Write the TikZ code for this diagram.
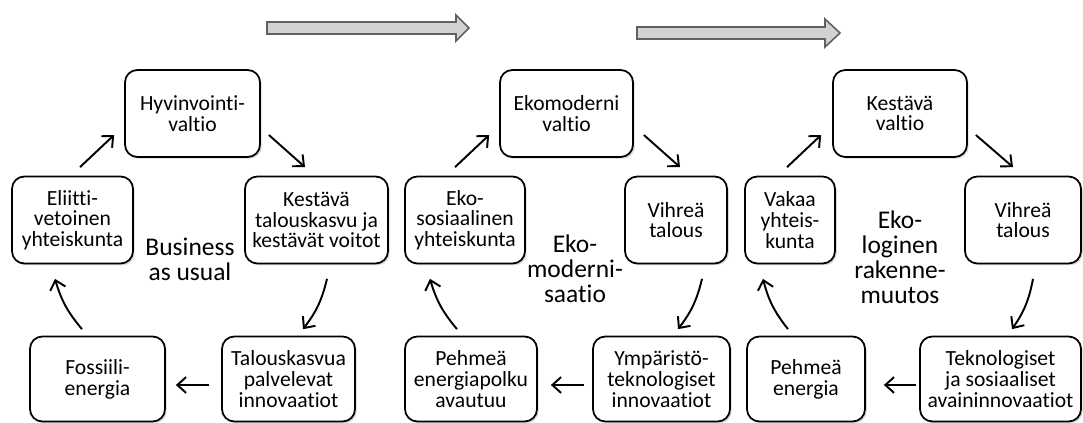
\documentclass[tikz,border=0pt]{standalone}
\usepackage{fontspec}
\setmainfont{Carlito}[Ligatures=NoCommon]
\usetikzlibrary{arrows.meta,shadows,calc}

\begin{document}
\begin{tikzpicture}[x=0.02cm,y=0.02cm,
	box/.style={draw, line width=1pt, rounded corners=7pt, fill=white, align=center, inner sep=1pt,
		minimum height=1.74cm, font=\fontsize{12.3}{11.8}\selectfont,
		drop shadow={shadow xshift=1pt, shadow yshift=-1pt, opacity=0.3}},
	lowbox/.style={box, minimum height=1.7cm},
	flow/.style={line width=1.1pt, -{Straight Barb[length=5pt,width=9pt]}},
	phase/.style={align=center, font=\fontsize{14.5}{14.2}\selectfont},
	bigarrow/.style={fill=gray!35, draw=gray!75!black, line width=0.9pt}]
\useasboundingbox (0,0) rectangle (1083,423);
%top arrows
\filldraw[bigarrow] (267,389) -- (456,389) -- (456,382) -- (469,395) -- (456,408) -- (456,401) -- (267,401) -- cycle;
\filldraw[bigarrow] (637,384) -- (825,384) -- (825,376) -- (840,390) -- (825,404) -- (825,396) -- (637,396) -- cycle;
%business as usual
\path (192.5,309.5) node[box, minimum width=2.7cm] (hyv) {Hyvinvointi-\\valtio};
\path (72.5,203) node[box, minimum width=2.42cm] (eli) {Eliitti-\\vetoinen\\yhteiskunta};
\path (316.5,203) node[box, minimum width=2.86cm] (kes) {Kestävä\\talouskasvu ja\\kestävät voitot};
\path (97.5,44) node[lowbox, minimum width=2.7cm] (fos) {Fossiili-\\energia};
\path (288.5,44) node[lowbox, minimum width=2.66cm] (tal) {Talouskasvua\\palvelevat\\innovaatiot};
\path (190,164) node[phase] (bau) {Business\\as usual};
\draw[flow] ($(eli.north)+(7.5,8.5)$) -- ($(hyv.west)+(-10,-21.5)$);
\draw[flow] ($(hyv.east)+(8,-21.5)$) -- ($(kes.north)+(-11.5,8.5)$);
\draw[flow] ($(kes.south)+(10.5,-14.5)$) to[bend left=12] ($(tal.north)+(14.5,6.5)$);
\draw[flow] ($(tal.west)+(-12,-6)$) -- ($(fos.east)+(10,-6)$);
\draw[flow] ($(fos.north)+(-15.5,6.5)$) to[bend left=12] ($(eli.south)+(-17.5,-14.5)$);
%ekomodernisaatio
\path (566.5,309.5) node[box, minimum width=2.66cm] (eko) {Ekomoderni\\valtio};
\path (465,203) node[box, minimum width=2.4cm] (sos) {Eko-\\sosiaalinen\\yhteiskunta};
\path (676,203) node[box, minimum width=2.04cm] (vih) {Vihreä\\talous};
\path (471,44) node[lowbox, minimum width=2.64cm] (peh) {Pehmeä\\energiapolku\\avautuu};
\path (661.5,44) node[lowbox, minimum width=2.74cm] (ymp) {Ympäristö-\\teknologiset\\innovaatiot};
\path (575,154) node[phase] (ekom) {Eko-\\moderni-\\saatio};
\draw[flow] ($(sos.north)+(-10,8.5)$) -- ($(eko.west)+(-10,-21.5)$);
\draw[flow] ($(eko.east)+(10,-21.5)$) -- ($(vih.north)+(4,8.5)$);
\draw[flow] ($(vih.south)+(26,-14.5)$) to[bend left=12] ($(ymp.north)+(16.5,6.5)$);
\draw[flow] ($(ymp.west)+(-8,-6)$) -- ($(peh.east)+(13,-6)$);
\draw[flow] ($(peh.north)+(-14,6.5)$) to[bend left=12] ($(sos.south)+(-35,-14.5)$);
%ekologinen rakennemuutos
\path (900,309.5) node[box, minimum width=2.68cm] (kv) {Kestävä\\valtio};
\path (790,203) node[box, minimum width=1.8cm] (vak) {Vakaa\\yhteis-\\kunta};
\path (1023,203) node[box, minimum width=2.32cm] (vih2) {Vihreä\\talous};
\path (806,44) node[lowbox, minimum width=2.36cm] (peh2) {Pehmeä\\energia};
\path (1000.5,44) node[lowbox, minimum width=3.22cm] (tek) {Teknologiset\\ja sosiaaliset\\avaininnovaatiot};
\path (900,166) node[phase] (ekol) {Eko-\\loginen\\rakenne-\\muutos};
\draw[flow] ($(vak.north)+(-3,8.5)$) -- ($(kv.west)+(-11,-21.5)$);
\draw[flow] ($(kv.east)+(8,-21.5)$) -- ($(vih2.north)+(-10,8.5)$);
\draw[flow] ($(vih2.south)+(10,-14.5)$) to[bend left=12] ($(tek.north)+(11.5,6.5)$);
\draw[flow] ($(tek.west)+(-3,-6)$) -- ($(peh2.east)+(18,-6)$);
\draw[flow] ($(peh2.north)+(-18,6.5)$) to[bend left=12] ($(vak.south)+(-27,-14.5)$);
\end{tikzpicture}
\end{document}
